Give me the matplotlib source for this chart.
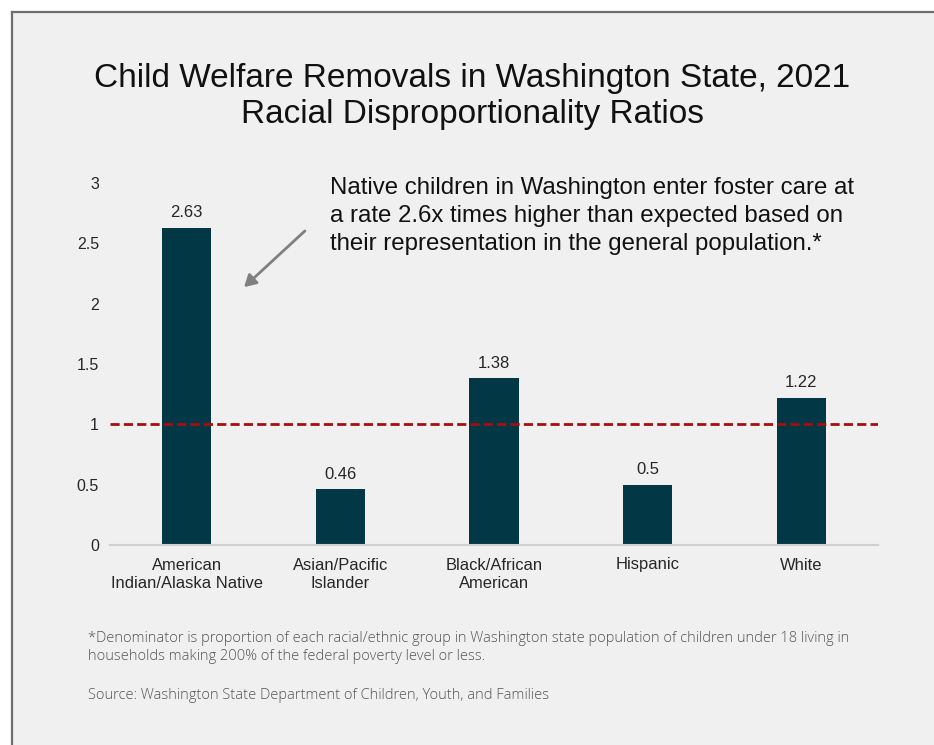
import matplotlib
matplotlib.use("Agg")
import matplotlib.pyplot as plt
from matplotlib.patches import Rectangle, FancyArrowPatch

categories = ["American\nIndian/Alaska Native", "Asian/Pacific\nIslander",
              "Black/African\nAmerican", "Hispanic", "White"]
values = [2.63, 0.46, 1.38, 0.5, 1.22]
value_labels = ["2.63", "0.46", "1.38", "0.5", "1.22"]
yticks = [0, 0.5, 1, 1.5, 2, 2.5, 3]
ytick_labels = ["0", "0.5", "1", "1.5", "2", "2.5", "3"]
reference_value = 1

W, H = 934, 745
fig = plt.figure(figsize=(W / 100, H / 100), dpi=100)
fig.patch.set_facecolor("white")

# panel background and border
fig.patches.append(Rectangle((12 / W, 0), 1 - 12 / W, 1 - 12 / H, transform=fig.transFigure,
                             facecolor="#f0f0f0", edgecolor="none", zorder=-5))
fig.add_artist(plt.Line2D([12 / W, 1], [1 - 12 / H, 1 - 12 / H], transform=fig.transFigure,
                          color="#6e6e6e", lw=1.6, zorder=-4))
fig.add_artist(plt.Line2D([12 / W, 12 / W], [0, 1 - 12 / H], transform=fig.transFigure,
                          color="#6e6e6e", lw=1.6, zorder=-4))

font = "Liberation Sans"
ax = fig.add_axes([110 / W, 200 / H, (878 - 110) / W, (562 - 200) / H])
ax.set_zorder(1)
ax.set_facecolor("none")
x = list(range(len(categories)))
ax.bar(x, values, width=0.32, color="#023845", zorder=2)
for xi, v, lab in zip(x, values, value_labels):
    ax.text(xi, v + 0.065, lab, ha="center", va="bottom", fontsize=12,
            family=font, color="#262626")
ax.axhline(reference_value, color="#a50f0f", lw=2, ls=(0, (3.3, 1.5)), zorder=3)
ax.set_xlim(-0.5, 4.5)
ax.set_ylim(0, 3)
ax.set_yticks(yticks)
ax.set_yticklabels(ytick_labels, family=font, fontsize=11.5, color="#262626")
ax.set_xticks(x)
ax.set_xticklabels(categories, family=font, fontsize=11.9, color="#262626", linespacing=1.25)
ax.tick_params(axis="both", length=0)
ax.tick_params(axis="y", pad=8)
ax.tick_params(axis="x", pad=9)
for s in ["top", "right", "left"]:
    ax.spines[s].set_visible(False)
ax.spines["bottom"].set_color("#d0d0d0")
ax.spines["bottom"].set_linewidth(1.5)

fig.text(472 / W, 1 - 78 / H, "Child Welfare Removals in Washington State, 2021",
         ha="center", va="center", fontsize=24, family=font, color="#111111")
fig.text(472 / W, 1 - 114 / H, "Racial Disproportionality Ratios",
         ha="center", va="center", fontsize=24, family=font, color="#111111")

fig.text(330 / W, 1 - 177 / H,
         "Native children in Washington enter foster care at\n"
         "a rate 2.6x times higher than expected based on\n"
         "their representation in the general population.*",
         ha="left", va="top", fontsize=17.3, family=font, color="#111111", linespacing=1.34)

fig.add_artist(FancyArrowPatch(
    (307 / W, 1 - 229 / H), (242 / W, 1 - 289 / H), transform=fig.transFigure,
    arrowstyle="-|>,head_length=7,head_width=4", color="#808080", lw=2))

fig.text(88 / W, 1 - 631 / H,
         "*Denominator is proportion of each racial/ethnic group in Washington state population of children under 18 living in\n"
         "households making 200% of the federal poverty level or less.",
         ha="left", va="top", fontsize=10.5, family="Open Sans", fontweight="light",
         color="#555555", linespacing=1.3)
fig.text(88 / W, 1 - 688 / H, "Source: Washington State Department of Children, Youth, and Families",
         ha="left", va="top", fontsize=10.5, family="Open Sans", fontweight="light", color="#555555")

fig.savefig("out.png", dpi=100, facecolor=fig.get_facecolor())
